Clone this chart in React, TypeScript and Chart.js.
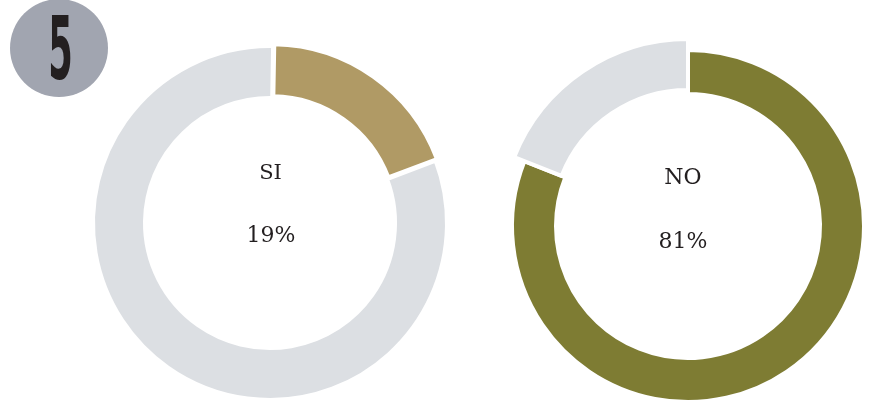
import React, { useEffect, useRef } from "react";
import { Chart, registerables } from "chart.js";

Chart.register(...registerables);

// ---- data ----
const categories = ["SI", "NO"];
const percentValues = [19, 81];
const badgeLabel = "5";

// ---- styles ----
const TAN = "#b09a65";
const GREY = "#dcdfe3";
const GREEN = "#7e7c33";
const CLEAR = "rgba(0,0,0,0)";
const TEXT = "#231f20";
const FONT = "'DejaVu Serif', 'Liberation Serif', serif";

type RingSpec = {
  data: number[];
  colors: string[];
  borders: string[];
  offsets: number[];
  radius: number;
  cutoutPct: number;
  rotation: number;
  size: number;
};

function Ring({ spec, left, top }: { spec: RingSpec; left: number; top: number }) {
  const ref = useRef<HTMLCanvasElement | null>(null);
  useEffect(() => {
    if (!ref.current) return;
    const chart = new Chart(ref.current, {
      type: "doughnut",
      data: {
        labels: spec.data.map((_, i) => String(i)),
        datasets: [
          {
            data: spec.data,
            backgroundColor: spec.colors,
            borderColor: spec.borders,
            borderWidth: 4,
            offset: spec.offsets,
            hoverOffset: 0,
          },
        ],
      },
      options: {
        responsive: false,
        maintainAspectRatio: false,
        animation: false,
        devicePixelRatio: 1,
        radius: spec.radius,
        cutout: spec.cutoutPct + "%",
        rotation: spec.rotation,
        layout: { padding: 0 },
        plugins: { legend: { display: false }, tooltip: { enabled: false } },
        events: [],
      },
    });
    return () => chart.destroy();
  }, []);
  return (
    <canvas
      ref={ref}
      width={spec.size}
      height={spec.size}
      style={{ position: "absolute", left, top, width: spec.size, height: spec.size }}
    />
  );
}

function CenterLabel({ text, cx, top, size }: { text: string; cx: number; top: number; size: number }) {
  return (
    <div
      style={{
        position: "absolute",
        left: cx - 60,
        top,
        width: 120,
        textAlign: "center",
        fontFamily: FONT,
        fontSize: size,
        lineHeight: size + "px",
        color: TEXT,
        whiteSpace: "nowrap",
      }}
    >
      {text}
    </div>
  );
}

export default function App() {
  const siIdx = 0;
  const noIdx = 1;

  // left donut: SI highlighted
  const leftSpec: RingSpec = {
    data: [percentValues[siIdx], percentValues[noIdx]],
    colors: [TAN, GREY],
    borders: ["#ffffff", "#ffffff"],
    offsets: [8, 0],
    radius: 177,
    cutoutPct: (125 / 177) * 100,
    rotation: 1,
    size: 380,
  };
  // right donut: NO highlighted (base ring)
  const rightBase: RingSpec = {
    data: [percentValues[noIdx], percentValues[siIdx]],
    colors: [GREEN, CLEAR],
    borders: ["#ffffff", CLEAR],
    offsets: [0, 0],
    radius: 176,
    cutoutPct: (132 / 176) * 100,
    rotation: 0,
    size: 400,
  };
  // right donut: enlarged grey slice on top
  const rightTop: RingSpec = {
    data: [percentValues[noIdx], percentValues[siIdx]],
    colors: [CLEAR, GREY],
    borders: [CLEAR, "#ffffff"],
    offsets: [0, 0],
    radius: 187,
    cutoutPct: (136 / 187) * 100,
    rotation: 0,
    size: 400,
  };

  const L = { cx: 270, cy: 223 };
  const R = { cx: 688, cy: 226 };

  return (
    <div
      style={{
        position: "absolute",
        left: 0,
        top: 0,
        width: 885,
        height: 405,
        overflow: "hidden",
        background: "#ffffff",
      }}
    >
      <Ring spec={leftSpec} left={L.cx - 190} top={L.cy - 190} />
      <Ring spec={rightBase} left={R.cx - 200} top={R.cy - 200} />
      <Ring spec={rightTop} left={R.cx - 200} top={R.cy - 200} />

      <CenterLabel text={categories[siIdx]} cx={270.5} top={162} size={21} />
      <CenterLabel text={percentValues[siIdx] + "%"} cx={271} top={224} size={22} />
      <CenterLabel text={categories[noIdx]} cx={683} top={166} size={22} />
      <CenterLabel text={percentValues[noIdx] + "%"} cx={683} top={230} size={22} />

      <div
        style={{
          position: "absolute",
          left: 10,
          top: -1,
          width: 98,
          height: 98,
          borderRadius: "50%",
          background: "#a1a5b0",
        }}
      />
      <div
        style={{
          position: "absolute",
          left: 0,
          top: 5,
          width: 121,
          height: 88,
          textAlign: "center",
          fontFamily: "'DejaVu Sans', sans-serif",
          fontWeight: "bold",
          fontSize: 88,
          lineHeight: "88px",
          color: "#231f20",
          transform: "scaleX(0.4)",
          transformOrigin: "60.5px 44px",
        }}
      >
        {badgeLabel}
      </div>
    </div>
  );
}
